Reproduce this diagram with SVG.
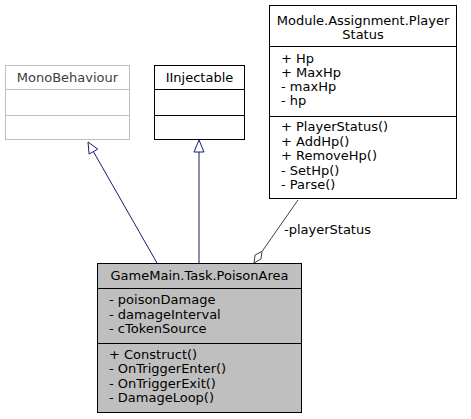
<svg xmlns="http://www.w3.org/2000/svg" width="471" height="419" viewBox="0 0 471 419">
<style>
text{font-family:"DejaVu Sans",sans-serif;font-size:13px;fill:#000}
.c{text-anchor:middle}
.box{fill:#fff;stroke:#000;stroke-width:1}
.ext{fill:#fff;stroke:#bfbfbf;stroke-width:1}
.main{fill:#bfbfbf;stroke:#000;stroke-width:1}
.inh{fill:none;stroke:#191970;stroke-width:1}
.agg{fill:none;stroke:#404040;stroke-width:1}
</style>
<rect width="471" height="419" fill="#fff"/>
<g id="connectors">
<line class="inh" x1="157" y1="263" x2="93.4" y2="151.6"/>
<polygon class="inh" style="fill:#fff" points="88,142 97.7,149.1 89.1,154.1"/>
<line class="inh" x1="199" y1="263" x2="199" y2="152"/>
<polygon class="inh" style="fill:#fff" points="199,140 204,152 194,152"/>
<line class="agg" x1="298" y1="200" x2="262" y2="251.5"/>
<polygon class="agg" style="fill:#fff" points="254,263 260.9,259 262,251.5 255.1,255"/>
<text x="284" y="234">-playerStatus</text>
</g>
<g id="MonoBehaviour">
<rect class="ext" x="5.5" y="65.5" width="124" height="74"/>
<line class="ext" x1="5.5" y1="89.5" x2="129.5" y2="89.5"/>
<line class="ext" x1="5.5" y1="115.5" x2="129.5" y2="115.5"/>
<text class="c" x="67.5" y="82" style="fill:#404040">MonoBehaviour</text>
</g>
<g id="IInjectable">
<rect class="box" x="154.5" y="65.5" width="90" height="74"/>
<line class="box" x1="154.5" y1="89.5" x2="244.5" y2="89.5"/>
<line class="box" x1="154.5" y1="115.5" x2="244.5" y2="115.5"/>
<text class="c" x="199.5" y="82">IInjectable</text>
</g>
<g id="PlayerStatus">
<rect class="box" x="269.5" y="5.5" width="187" height="193"/>
<line class="box" x1="269.5" y1="46.5" x2="456.5" y2="46.5"/>
<line class="box" x1="269.5" y1="116.5" x2="456.5" y2="116.5"/>
<text class="c" x="363" y="24.5">Module.Assignment.Player</text>
<text class="c" x="363" y="38.5">Status</text>
<text x="281" y="62.5">+ Hp</text>
<text x="281" y="76.5">+ MaxHp</text>
<text x="281" y="90.5">- maxHp</text>
<text x="281" y="104.5">- hp</text>
<text x="281" y="131">+ PlayerStatus()</text>
<text x="281" y="145.5">+ AddHp()</text>
<text x="281" y="160">+ RemoveHp()</text>
<text x="281" y="174.5">- SetHp()</text>
<text x="281" y="189">- Parse()</text>
</g>
<g id="PoisonArea">
<rect class="main" x="97.5" y="263.5" width="204" height="149"/>
<line class="main" x1="97.5" y1="288.5" x2="301.5" y2="288.5"/>
<line class="main" x1="97.5" y1="343.5" x2="301.5" y2="343.5"/>
<text class="c" x="199.5" y="280">GameMain.Task.PoisonArea</text>
<text x="109" y="304">- poisonDamage</text>
<text x="109" y="318.5">- damageInterval</text>
<text x="109" y="333">- cTokenSource</text>
<text x="109" y="358.5">+ Construct()</text>
<text x="109" y="373">- OnTriggerEnter()</text>
<text x="109" y="387.5">- OnTriggerExit()</text>
<text x="109" y="402">- DamageLoop()</text>
</g>
</svg>
